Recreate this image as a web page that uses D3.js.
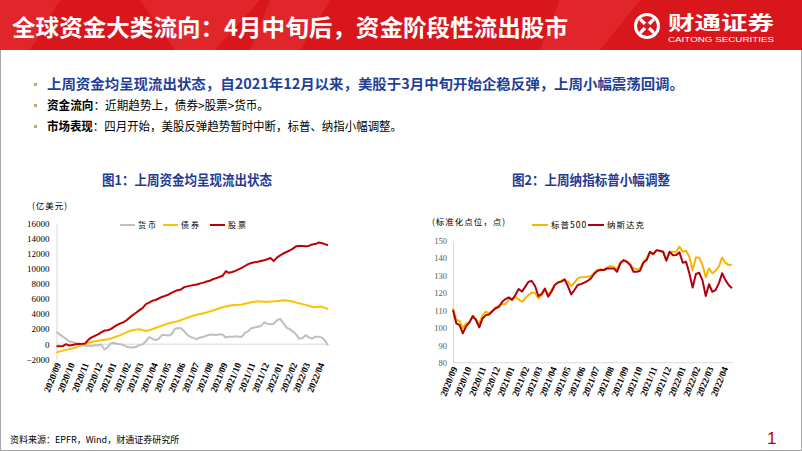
<!DOCTYPE html>
<html><head><meta charset="utf-8">
<script src="https://cdn.jsdelivr.net/npm/d3@7"></script>
<style>body{margin:0;background:#fff}svg{display:block}</style>
</head><body><svg id="c" width="802" height="451"></svg>
<script>
// ---------- DATA ----------
const startDate = "2020-09-04"; // first weekly observation
const monthLabels = ["2020/09","2020/10","2020/11","2020/12","2021/01","2021/02","2021/03","2021/04","2021/05","2021/06","2021/07","2021/08","2021/09","2021/10","2021/11","2021/12","2022/01","2022/02","2022/03","2022/04"];
const flowTicks = [-2000,0,2000,4000,6000,8000,10000,12000,14000,16000];
const indexTicks = [80,90,100,110,120,130,140,150];
const flowSeriesNames = ["货币","债券","股票"];
const indexSeriesNames = ["标普500","纳斯达克"];
const moneyFlow = [1630,1300,1000,700,350,250,150,90,-100,-220,
 -200,-250,-150,-130,-50,-700,-400,100,180,50,
 0,-100,-350,-440,-450,-350,-100,0,400,950,
 700,550,700,1200,1200,1150,1300,2000,2150,2100,
 1700,1200,970,800,660,900,970,1150,1270,1250,
 1230,1300,1270,880,1000,970,1060,1000,970,1500,
 1700,2100,2200,2300,2400,2900,2700,2640,2700,3170,
 3340,2800,2200,2000,1700,1300,700,800,1190,900,
 750,970,1000,900,530,-130];
const bondFlow = [-1140,-950,-850,-750,-650,-560,-450,-250,-100,0,
 200,300,380,450,520,580,650,750,900,1050,
 1200,1400,1600,1750,1850,1950,1980,1850,1750,1850,
 2000,2150,2300,2450,2600,2750,2850,2950,3050,3200,
 3350,3500,3650,3800,3900,4000,4100,4200,4350,4450,
 4600,4750,4900,5000,5100,5150,5200,5220,5250,5350,
 5450,5550,5620,5680,5650,5620,5630,5650,5680,5720,
 5760,5800,5780,5730,5650,5500,5400,5300,5200,5100,
 4950,4900,4950,4950,4800,4650];
const equityFlow = [-260,-260,-250,0,-180,-100,-20,20,50,100,
 600,900,1100,1300,1550,1800,1850,2000,2300,2550,
 2750,2900,3200,3550,3900,4200,4500,4800,5300,5500,
 5750,5850,6050,6250,6400,6550,6800,7000,7150,7250,
 7550,7650,7750,7820,7900,8050,8150,8300,8400,8600,
 8750,8900,9050,9650,9450,9550,9700,9900,10100,10350,
 10600,10750,10850,10900,11000,11100,11250,11400,11000,11450,
 11750,12000,12200,12400,12650,12950,12980,12990,12950,13000,
 13200,13250,13450,13400,13250,13100];
const sp500 = [111.2,104.5,104.1,99.7,102.6,103.5,106.4,104.9,102.6,107.3,
 109.3,108.3,110,111.8,112.5,113.7,113.7,116,116.9,117.9,
 116.3,115,117,118.8,120.2,120.2,116.9,118.8,121.7,118.8,
 121.7,124.6,126,127.1,127.4,126.5,124,125.9,128.4,129,
 129.1,129.3,129.7,131.6,133.2,133.6,133.2,134.7,135.5,135,
 133.6,138,138.5,137.9,136.6,134.1,133.7,134.1,138,139.9,
 143.1,142.3,144.3,144,143.7,139.2,143.1,143.7,143.7,146.6,
 143.7,144.3,140.8,133.2,140.4,140.4,136,129,134.1,131.3,
 132.8,135.1,140.4,137.4,136,136.4];
const nasdaq = [110.2,102.6,101.6,96.8,101,103,106.8,104.5,100.3,105.4,
 107.3,107.7,109.5,111.2,112.1,115,116.5,117.5,116,118.8,
 122.3,120.8,123.5,126.5,126.9,124,118.3,119.4,122.6,117.9,
 120.7,124.6,126,126.5,127.8,124,119.2,121.7,124.6,125.1,
 126,126.9,128.4,130.9,132.8,133.2,133.2,134.1,134.1,134,
 132.2,137,138.9,137.9,136,132.2,132.2,132.8,137.4,138.9,
 143.7,142.3,144.6,144.2,143.7,138.5,143.7,141.6,141.8,143.3,
 137.4,137.9,131.3,123.2,130.9,131.6,127.4,118.3,125,120.7,
 121.7,125.5,131.3,127.4,124.6,122.7];

// ---------- SETUP ----------
const svg = d3.select("#c");
const parse = d3.timeParse("%Y-%m-%d");
const d0 = parse(startDate);
const dates = moneyFlow.map((_, i) => d3.timeDay.offset(d0, 7 * i));
const monthDates = monthLabels.map(s => d3.timeParse("%Y/%m")(s));
const CJK = "'Noto Sans CJK SC','Noto Sans',sans-serif";
const SERIF = "'Liberation Serif','DejaVu Serif',serif";
const RED = "#c00000", YEL = "#ffc000", GRY = "#bfbfbf";

// frame
svg.append("rect").attr("x",0.5).attr("y",0.5).attr("width",801).attr("height",450)
  .attr("fill","#fff").attr("stroke","#a6a6a6");

// ---------- HEADER ----------
const hdr = svg.append("g");
hdr.append("rect").attr("x",0).attr("y",0).attr("width",802).attr("height",50).attr("fill","#d9161c");
[[ [140,0],[260,0],[215,50],[175,50] ],[ [270,0],[330,0],[300,50],[250,50] ],[ [560,0],[640,0],[600,50],[540,50] ],[ [0,0],[60,0],[30,50],[0,50] ]]
  .forEach(p => hdr.append("polygon").attr("points",p.map(q=>q.join(",")).join(" ")).attr("fill","#ea3a3f").attr("opacity",0.45));
hdr.append("text").attr("x",12).attr("y",36).attr("fill","#fff")
  .attr("font-family",CJK).attr("font-weight","bold").attr("font-size",23)
  .attr("textLength",556).attr("lengthAdjust","spacingAndGlyphs")
  .text("全球资金大类流向：4月中旬后，资金阶段性流出股市");
// logo
const lg = hdr.append("g").attr("transform","translate(647,26)");
lg.append("circle").attr("r",11.5).attr("fill","none").attr("stroke","#fff").attr("stroke-width",3);
lg.append("path").attr("d","M-6,-6 L6,6 M6,-6 L-6,6").attr("stroke","#fff").attr("stroke-width",3.2).attr("stroke-linecap","round");
lg.append("circle").attr("r",3).attr("fill","#d9161c");
hdr.append("text").attr("x",668).attr("y",30).attr("fill","#fff").attr("font-family",CJK)
  .attr("font-weight","bold").attr("font-size",19).attr("textLength",106).attr("lengthAdjust","spacingAndGlyphs").text("财通证券");
hdr.append("text").attr("x",668).attr("y",42).attr("fill","#fff").attr("font-family","'Liberation Sans',Arial,sans-serif")
  .attr("font-size",8).attr("textLength",106).attr("lengthAdjust","spacingAndGlyphs").text("CAITONG SECURITIES");

// ---------- BULLETS ----------
const bullets = [
  {y:89, parts:[{t:"上周资金均呈现流出状态，自2021年12月以来，美股于3月中旬开始企稳反弹，上周小幅震荡回调。",b:true,c:"#1f3f9a"}], len:637, fs:14},
  {y:110, parts:[{t:"资金流向",b:true,c:"#000"},{t:"：近期趋势上，债券>股票>货币。",b:false,c:"#000"}], len:222, fs:12},
  {y:131, parts:[{t:"市场表现",b:true,c:"#000"},{t:"：四月开始，美股反弹趋势暂时中断，标普、纳指小幅调整。",b:false,c:"#000"}], len:355, fs:12}
];
bullets.forEach(bl => {
  svg.append("rect").attr("x",34).attr("y",bl.y-6).attr("width",3).attr("height",3).attr("fill","#c9a46a");
  const t = svg.append("text").attr("x",47).attr("y",bl.y).attr("font-family",CJK).attr("font-size",bl.fs)
    .attr("textLength",bl.len).attr("lengthAdjust","spacingAndGlyphs");
  bl.parts.forEach(p => t.append("tspan").attr("font-weight",p.b?"bold":"normal").attr("fill",p.c).text(p.t));
});

// ---------- CHART TITLES ----------
[{x:102,t:"图1：上周资金均呈现流出状态",len:170},{x:512,t:"图2：上周纳指标普小幅调整",len:158}].forEach(o=>{
  svg.append("text").attr("x",o.x).attr("y",185).attr("fill","#1f3a93").attr("font-family",CJK)
    .attr("font-weight","bold").attr("font-size",13.5).attr("textLength",o.len).attr("lengthAdjust","spacingAndGlyphs").text(o.t);
});

// ---------- helper for rotated month labels ----------
function monthAxis(g, x, yTop) {
  g.selectAll("text.m").data(monthDates).join("text").attr("class","m")
    .attr("transform", (d) => `translate(${x(d)+3},${yTop}) rotate(-68)`)
    .attr("text-anchor","end").attr("dy","0.35em")
    .attr("font-family",SERIF).attr("font-weight","bold").attr("font-size",9.5).attr("fill","#000")
    .text((d,i)=>monthLabels[i]);
}

// ---------- LEFT CHART ----------
{
  const g = svg.append("g");
  const x = d3.scaleTime().domain([dates[0], dates[dates.length-1]]).range([56.5, 328]);
  const y = d3.scaleLinear().domain([-2000,16000]).range([359.3, 223.3]);
  const ya = d3.axisLeft(y).tickValues(flowTicks).tickSize(0).tickPadding(7).tickFormat(d3.format("d"));
  const ag = g.append("g").attr("transform","translate(56.5,0)").call(ya);
  ag.select(".domain").attr("stroke","#d9d9d9");
  ag.selectAll("text").attr("font-family",SERIF).attr("font-size",9).attr("fill","#000");
  g.append("line").attr("x1",56.5).attr("x2",328).attr("y1",y(0)).attr("y2",y(0)).attr("stroke","#d9d9d9");
  monthAxis(g, x, 363);
  const line = d3.line().x((d,i)=>x(dates[i])).y(d=>y(d));
  [[moneyFlow,GRY],[bondFlow,YEL],[equityFlow,RED]].forEach(([s,c])=>{
    g.append("path").datum(s).attr("d",line).attr("fill","none").attr("stroke",c).attr("stroke-width",2).attr("stroke-linejoin","round");
  });
  g.append("text").attr("x",32).attr("y",209).attr("font-family",CJK).attr("font-size",8.5).attr("fill","#000").attr("letter-spacing",1).text("(亿美元)");
  const lx = [120,163,210], cols=[GRY,YEL,RED];
  flowSeriesNames.forEach((n,i)=>{
    g.append("line").attr("x1",lx[i]).attr("x2",lx[i]+15).attr("y1",225).attr("y2",225).attr("stroke",cols[i]).attr("stroke-width",2);
    g.append("text").attr("x",lx[i]+18).attr("y",228).attr("font-family",CJK).attr("font-size",8).attr("letter-spacing",2).attr("fill","#000").text(n);
  });
}

// ---------- RIGHT CHART ----------
{
  const g = svg.append("g");
  const x = d3.scaleTime().domain([dates[0], dates[dates.length-1]]).range([453, 732]);
  const y = d3.scaleLinear().domain([80,150]).range([362.7, 240.7]);
  const ya = d3.axisLeft(y).tickValues(indexTicks).tickSize(0).tickPadding(6);
  const ag = g.append("g").attr("transform","translate(453,0)").call(ya);
  ag.select(".domain").attr("stroke","#d9d9d9");
  ag.selectAll("text").attr("font-family",SERIF).attr("font-size",8.5).attr("fill","#595959");
  g.append("line").attr("x1",453).attr("x2",733).attr("y1",y(80)).attr("y2",y(80)).attr("stroke","#d9d9d9");
  monthAxis(g, x, 367);
  const line = d3.line().x((d,i)=>x(dates[i])).y(d=>y(d));
  [[sp500,"#f7b500"],[nasdaq,"#b00010"]].forEach(([s,c])=>{
    g.append("path").datum(s).attr("d",line).attr("fill","none").attr("stroke",c).attr("stroke-width",2).attr("stroke-linejoin","round");
  });
  g.append("text").attr("x",432).attr("y",225).attr("font-family",CJK).attr("font-size",8.5).attr("fill","#000").attr("letter-spacing",1).text("(标准化点位，点)");
  const lx = [532,588], cols=["#f7b500","#b00010"];
  indexSeriesNames.forEach((n,i)=>{
    g.append("line").attr("x1",lx[i]).attr("x2",lx[i]+16).attr("y1",225).attr("y2",225).attr("stroke",cols[i]).attr("stroke-width",2);
    g.append("text").attr("x",lx[i]+19).attr("y",228).attr("font-family",CJK).attr("font-size",8.5).attr("letter-spacing",1).attr("fill","#000").text(n);
  });
}

// ---------- FOOTER ----------
svg.append("text").attr("x",10).attr("y",443).attr("font-family",CJK).attr("font-size",9).attr("fill","#000").text("资料来源：EPFR，Wind，财通证券研究所");
svg.append("text").attr("x",767).attr("y",444).attr("font-family","'Liberation Sans',Arial,sans-serif").attr("font-size",17).attr("fill","#c00000").text("1");
</script></body></html>
